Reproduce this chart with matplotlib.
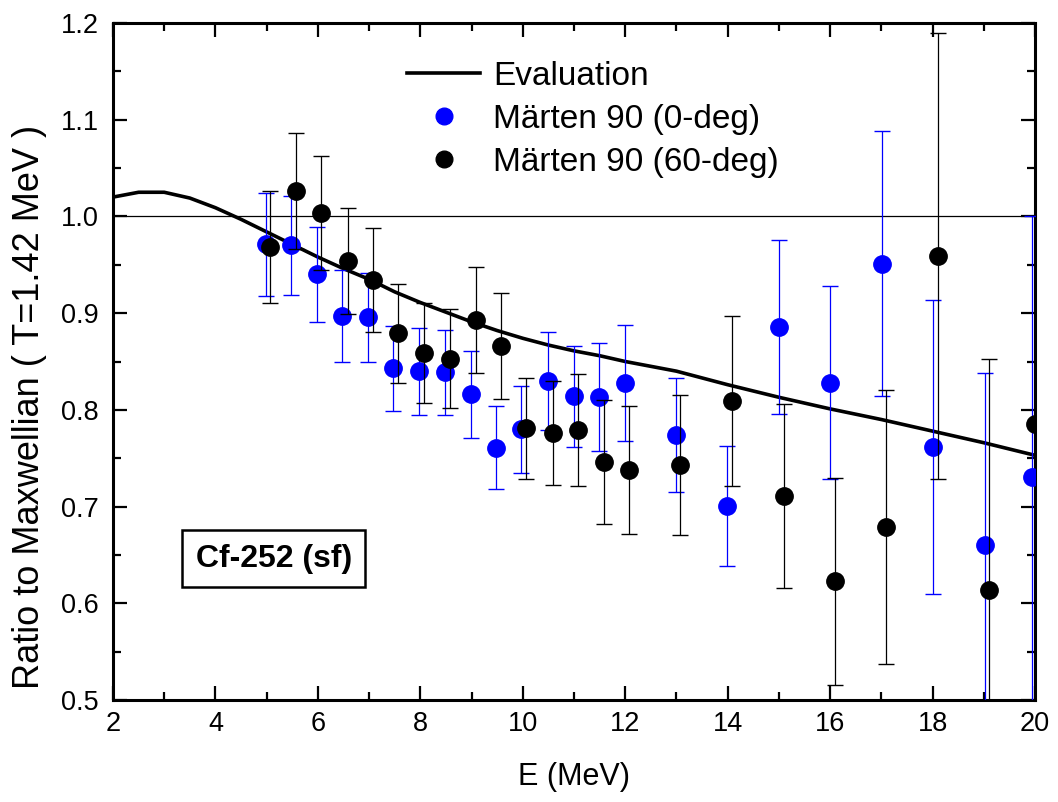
import numpy as np
import matplotlib
matplotlib.use('Agg')
import matplotlib.pyplot as plt
from matplotlib.ticker import MultipleLocator
from matplotlib.lines import Line2D

plt.rcParams['font.family'] = ['Liberation Sans', 'DejaVu Sans']

# Evaluation curve (ratio to Maxwellian, T=1.42 MeV)
eval_e = [2, 2.5, 3, 3.5, 4, 4.5, 5, 5.5, 6, 6.5, 7, 7.5, 8, 8.5, 9, 9.5,
          10, 10.5, 11, 11.5, 12, 12.5, 13, 14, 15, 16, 17, 18, 19, 20]
eval_r = [1.020, 1.025, 1.025, 1.019, 1.009, 0.997, 0.984, 0.971, 0.958, 0.946,
          0.935, 0.922, 0.911, 0.901, 0.891, 0.882, 0.874, 0.867, 0.861, 0.856,
          0.850, 0.845, 0.840, 0.826, 0.813, 0.801, 0.790, 0.778, 0.766, 0.753]

# Marten 90, 0-deg
m0_e = [4.99, 5.47, 5.98, 6.47, 6.98, 7.47, 7.97, 8.48, 8.98, 9.47, 9.96, 10.49,
        10.99, 11.48, 11.99, 12.99, 13.99, 15.0, 16.0, 17.01, 18.01, 19.02, 19.94]
m0_r = [0.971, 0.970, 0.940, 0.897, 0.896, 0.843, 0.840, 0.839, 0.816, 0.761, 0.780, 0.830,
        0.814, 0.813, 0.828, 0.774, 0.701, 0.886, 0.828, 0.951, 0.762, 0.660, 0.731]
m0_err = [0.053, 0.051, 0.049, 0.048, 0.046, 0.044, 0.045, 0.044, 0.045, 0.043, 0.045, 0.051,
          0.052, 0.056, 0.060, 0.059, 0.062, 0.090, 0.100, 0.137, 0.152, 0.178, 0.269]

# Marten 90, 60-deg
m60_e = [5.07, 5.57, 6.07, 6.58, 7.07, 7.57, 8.07, 8.57, 9.08, 9.58, 10.07, 10.58,
         11.08, 11.58, 12.08, 13.07, 14.08, 15.09, 16.09, 17.1, 18.1, 19.11, 20.0]
m60_r = [0.968, 1.026, 1.004, 0.954, 0.934, 0.879, 0.859, 0.853, 0.893, 0.866, 0.781, 0.776,
         0.779, 0.746, 0.738, 0.743, 0.809, 0.711, 0.623, 0.679, 0.959, 0.614, 0.785]
m60_err = [0.058, 0.060, 0.059, 0.055, 0.054, 0.051, 0.052, 0.051, 0.055, 0.055, 0.052, 0.054,
           0.058, 0.064, 0.066, 0.072, 0.088, 0.095, 0.107, 0.142, 0.231, 0.239, 0.0]

fig = plt.figure(figsize=(10.58, 8.02), dpi=100)
ax = fig.add_axes([0.1068, 0.1272, 0.8715, 0.8441])

ax.axhline(1.0, color='black', lw=0.9, zorder=1)
ax.plot(eval_e, eval_r, color='black', lw=2.6, zorder=2)
ax.errorbar(m0_e, m0_r, yerr=m0_err, fmt='o', color='blue', ms=12.5, mec='blue',
            ecolor='blue', elinewidth=0.9, capsize=6, capthick=1.0, zorder=3)
ax.errorbar(m60_e, m60_r, yerr=m60_err, fmt='o', color='black', ms=12.5, mec='black',
            ecolor='black', elinewidth=0.9, capsize=6, capthick=1.0, zorder=4)

ax.set_xlim(2, 20)
ax.set_ylim(0.5, 1.2)
ax.xaxis.set_major_locator(MultipleLocator(2))
ax.xaxis.set_minor_locator(MultipleLocator(1))
ax.yaxis.set_major_locator(MultipleLocator(0.1))
ax.yaxis.set_minor_locator(MultipleLocator(0.05))
ax.tick_params(which='both', direction='in', top=True, right=True, labelsize=19.5)
ax.tick_params(which='major', length=10, width=1.6)
ax.tick_params(which='minor', length=5.5, width=1.6)
ax.tick_params(axis='x', pad=8)
ax.tick_params(axis='y', pad=10)
for s in ax.spines.values():
    s.set_linewidth(2.2)

ax.set_xlabel('E (MeV)', fontsize=22, labelpad=18)
ax.set_ylabel('Ratio to Maxwellian ( T=1.42 MeV )', fontsize=26)
ax.yaxis.set_label_coords(-0.072, 0.433)

handles = [Line2D([], [], color='black', lw=2.6),
           Line2D([], [], ls='none', marker='o', color='blue', ms=12),
           Line2D([], [], ls='none', marker='o', color='black', ms=12)]
labels = ['Evaluation', 'Märten 90 (0-deg)', 'Märten 90 (60-deg)']
ax.legend(handles, labels, loc='upper left', bbox_to_anchor=(0.319, 0.944), frameon=False,
          fontsize=24, handlelength=2.2, handletextpad=0.39, labelspacing=0.36,
          borderpad=0, borderaxespad=0)

ax.text(5.14, 0.646, 'Cf-252 (sf)', fontsize=23, fontweight='bold', ha='center', va='center',
        bbox=dict(boxstyle='square,pad=0.42', fc='white', ec='black', lw=1.8))

fig.savefig('out.png', dpi=100)
